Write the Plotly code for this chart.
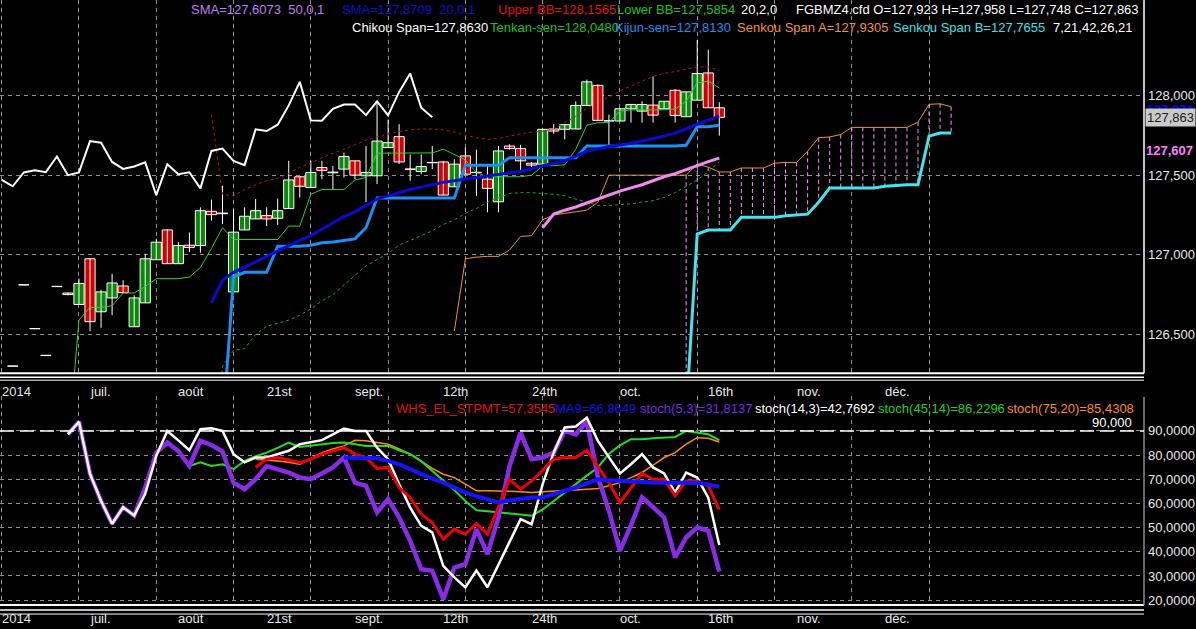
import plotly.graph_objects as go

# ---------------- price pane : FGBMZ4.cfd, one candle per bar index ----------------
first_bar = 1
bar_open = [126.300, 126.810, 126.535, 126.367, 126.800, 126.760, 126.688, 126.975, 126.642, 126.729,
            126.804, 126.548, 126.698, 126.969, 127.156, 126.944, 127.060, 127.058, 127.273, 127.262,
            126.767, 127.156, 127.225, 127.246, 127.229, 127.290, 127.490, 127.423, 127.548, 127.515,
            127.538, 127.590, 127.496, 127.496, 127.673, 127.742, 127.536, 127.523, 127.578, 127.583,
            127.427, 127.621, 127.516, 127.475, 127.333, 127.683, 127.667, 127.575, 127.569, 127.790,
            127.788, 127.790, 127.938, 128.064, 127.840, 127.840, 127.917, 127.902, 127.940, 127.917,
            128.033, 127.867, 127.971, 128.142, 127.923]
bar_high = [126.300, 126.810, 126.535, 126.367, 126.800, 126.762, 126.850, 126.975, 126.780, 126.880,
            126.840, 126.746, 127.006, 127.100, 127.160, 127.080, 127.140, 127.298, 127.346, 127.433,
            127.288, 127.298, 127.350, 127.298, 127.354, 127.590, 127.490, 127.590, 127.590, 127.558,
            127.642, 127.590, 127.683, 127.964, 127.850, 127.820, 127.630, 127.630, 127.683, 127.590,
            127.600, 127.673, 127.660, 127.558, 127.683, 127.694, 127.690, 127.580, 127.790, 127.820,
            127.820, 127.964, 128.100, 128.070, 127.880, 127.920, 127.944, 127.964, 128.120, 127.964,
            128.040, 128.023, 128.350, 128.288, 127.958]
bar_low = [126.300, 126.810, 126.535, 126.367, 126.800, 126.745, 126.688, 126.520, 126.542, 126.620,
           126.762, 126.548, 126.698, 126.969, 126.944, 126.944, 127.017, 127.013, 127.214, 127.194,
           126.767, 127.156, 127.225, 127.180, 127.188, 127.290, 127.360, 127.423, 127.475, 127.413,
           127.485, 127.475, 127.330, 127.444, 127.673, 127.570, 127.465, 127.506, 127.538, 127.375,
           127.427, 127.506, 127.370, 127.267, 127.267, 127.660, 127.517, 127.550, 127.569, 127.760,
           127.725, 127.790, 127.938, 127.844, 127.683, 127.840, 127.830, 127.830, 127.830, 127.917,
           127.830, 127.867, 127.971, 127.923, 127.748]
bar_close = [126.300, 126.810, 126.535, 126.367, 126.800, 126.750, 126.820, 126.580, 126.767, 126.823,
             126.762, 126.729, 126.975, 127.079, 126.944, 127.058, 127.046, 127.277, 127.252, 127.258,
             127.142, 127.242, 127.277, 127.225, 127.277, 127.470, 127.430, 127.517, 127.530, 127.519,
             127.617, 127.500, 127.517, 127.714, 127.704, 127.583, 127.539, 127.554, 127.580, 127.375,
             127.569, 127.506, 127.518, 127.417, 127.652, 127.667, 127.590, 127.563, 127.788, 127.777,
             127.817, 127.938, 128.086, 127.844, 127.842, 127.917, 127.944, 127.944, 127.877, 127.964,
             127.875, 128.023, 128.138, 127.923, 127.863]

# Ichimoku 7,21,42,26,21
chikou_start = 0
chikou = [127.470, 127.430, 127.517, 127.530, 127.519, 127.617, 127.500, 127.517, 127.714, 127.704,
          127.583, 127.539, 127.554, 127.580, 127.375, 127.569, 127.506, 127.518, 127.417, 127.652,
          127.667, 127.590, 127.563, 127.788, 127.777, 127.817, 127.938, 128.086, 127.844, 127.842,
          127.917, 127.944, 127.944, 127.877, 127.964, 127.875, 128.023, 128.138, 127.923, 127.863]
tenkan_start = 6
tenkan = [125.780, 126.590, 126.670, 126.670, 126.680, 126.760, 126.760, 126.800, 126.850, 126.850,
          126.850, 126.860, 126.920, 127.040, 127.170, 127.096, 127.096, 127.096, 127.096, 127.096,
          127.180, 127.180, 127.380, 127.410, 127.410, 127.410, 127.470, 127.485, 127.638, 127.638,
          127.638, 127.638, 127.638, 127.640, 127.663, 127.630, 127.596, 127.517, 127.490, 127.490,
          127.490, 127.490, 127.500, 127.558, 127.560, 127.565, 127.663, 127.813, 127.830, 127.830,
          127.902, 127.910, 127.910, 127.910, 127.910, 127.915, 127.964, 128.080, 128.090, 128.048]
kijun_start = 20
kijun = [125.890, 126.860, 126.890, 126.890, 126.890, 127.054, 127.054, 127.054, 127.060, 127.075,
         127.080, 127.090, 127.100, 127.170, 127.356, 127.356, 127.356, 127.356, 127.356, 127.356,
         127.356, 127.356, 127.563, 127.563, 127.563, 127.563, 127.610, 127.610, 127.610, 127.610,
         127.610, 127.610, 127.610, 127.683, 127.683, 127.683, 127.683, 127.683, 127.683, 127.683,
         127.683, 127.683, 127.688, 127.804, 127.804, 127.813]
senkou_a_start = 41
senkou_a = [126.520, 126.975, 126.985, 126.990, 126.990, 127.030, 127.115, 127.120, 127.220, 127.250,
            127.260, 127.270, 127.280, 127.330, 127.500, 127.500, 127.500, 127.500, 127.500, 127.500,
            127.500, 127.500, 127.570, 127.550, 127.520, 127.520, 127.545, 127.545, 127.545, 127.575,
            127.580, 127.580, 127.650, 127.735, 127.740, 127.755, 127.800, 127.800, 127.800, 127.800,
            127.800, 127.800, 127.833, 127.945, 127.948, 127.930]
senkou_b_start = 62
senkou_b = [126.000, 127.130, 127.155, 127.155, 127.155, 127.235, 127.235, 127.235, 127.235, 127.245,
            127.250, 127.255, 127.330, 127.420, 127.420, 127.420, 127.420, 127.420, 127.430, 127.435,
            127.440, 127.440, 127.745, 127.765, 127.765]

# moving averages and Bollinger bands (20,2,0)
sma20_start = 19
sma20 = [126.700, 126.840, 126.890, 126.920, 126.955, 126.990, 127.025, 127.060, 127.090, 127.120,
         127.160, 127.200, 127.240, 127.270, 127.310, 127.350, 127.370, 127.390, 127.410, 127.425,
         127.440, 127.455, 127.465, 127.475, 127.485, 127.495, 127.505, 127.515, 127.525, 127.540,
         127.560, 127.575, 127.590, 127.620, 127.650, 127.665, 127.680, 127.690, 127.700, 127.715,
         127.730, 127.745, 127.765, 127.790, 127.820, 127.845, 127.871]
upper_bb = [127.880, 127.380, 127.370, 127.410, 127.440, 127.465, 127.480, 127.510, 127.550, 127.575,
            127.610, 127.635, 127.660, 127.690, 127.720, 127.740, 127.760, 127.775, 127.785, 127.790,
            127.790, 127.785, 127.770, 127.750, 127.735, 127.725, 127.730, 127.745, 127.760, 127.770,
            127.775, 127.790, 127.830, 127.870, 127.920, 127.960, 127.990, 128.030, 128.060, 128.090,
            128.120, 128.140, 128.150, 128.165, 128.180, 128.180, 128.157]
lower_bb = [125.540, 126.300, 126.400, 126.410, 126.500, 126.550, 126.570, 126.590, 126.620, 126.660,
            126.710, 126.750, 126.810, 126.870, 126.930, 126.970, 127.010, 127.060, 127.090, 127.120,
            127.150, 127.190, 127.220, 127.260, 127.290, 127.330, 127.360, 127.385, 127.390, 127.390,
            127.385, 127.380, 127.370, 127.350, 127.330, 127.310, 127.310, 127.315, 127.320, 127.330,
            127.340, 127.360, 127.390, 127.430, 127.470, 127.520, 127.585]
sma50_start = 49
sma50 = [127.170, 127.256, 127.280, 127.300, 127.325, 127.350, 127.375, 127.400, 127.420, 127.440,
         127.465, 127.490, 127.510, 127.535, 127.563, 127.585, 127.607]

# ---------------- oscillator pane ----------------
stoch5_start = 6
stoch5 = [88.6, 93.8, 72.2, 61.0, 51.6, 58.4, 55.0, 66.6, 81.0, 85.2,
          81.7, 75.5, 85.9, 84.2, 81.5, 68.6, 65.9, 70.0, 75.5, 74.2,
          72.8, 70.7, 70.0, 72.4, 74.9, 79.0, 68.6, 67.3, 56.3, 61.8,
          54.2, 44.5, 32.8, 32.1, 20.4, 33.5, 34.9, 49.4, 39.0, 54.2,
          75.5, 89.3, 78.3, 79.0, 81.0, 90.0, 88.6, 93.9, 71.0, 57.0,
          40.4, 51.0, 62.5, 58.5, 54.2, 37.7, 45.9, 50.1, 48.7, 31.8]
stoch14_start = 6
stoch14 = [88.6, 93.8, 72.2, 61.0, 51.6, 58.4, 55.0, 64.0, 79.7, 90.0,
           86.1, 82.0, 90.7, 91.1, 90.0, 80.4, 77.0, 79.0, 79.0, 80.4,
           81.8, 84.5, 85.5, 86.2, 88.6, 91.0, 90.0, 90.0, 83.1, 78.3,
           68.0, 58.3, 50.7, 48.0, 34.2, 29.4, 25.3, 32.2, 25.3, 34.9,
           44.5, 53.5, 51.4, 68.0, 81.0, 91.4, 91.8, 95.5, 85.9, 79.0,
           72.4, 76.2, 80.4, 74.9, 72.4, 64.5, 72.8, 70.7, 62.4, 42.8]
whs_start = 23
whs_stpmt = [74.9, 78.3, 79.0, 78.0, 76.9, 78.3, 80.4, 81.7, 83.1, 80.4,
             79.0, 74.4, 75.1, 66.6, 62.5, 55.6, 52.1, 45.2, 49.4, 47.3,
             51.7, 47.3, 58.3, 70.0, 65.9, 69.3, 73.7, 78.3, 79.0, 79.0,
             82.0, 75.5, 68.6, 60.4, 66.6, 72.4, 70.0, 70.0, 63.1, 69.3,
             69.3, 67.3, 57.4]
ma9_start = 31
ma9 = [79.0, 79.0, 78.9, 78.7, 77.6, 76.2, 74.2, 72.1, 70.3, 68.6,
       66.5, 64.5, 63.0, 61.8, 60.4, 61.3, 62.0, 62.5, 62.5, 63.8,
       65.2, 66.6, 68.3, 70.0, 69.6, 69.3, 69.0, 68.8, 68.7, 68.6,
       68.6, 68.6, 68.6, 67.8, 66.9]
stoch45_start = 17
stoch45 = [75.5, 77.0, 75.5, 76.2, 74.2, 77.6, 79.5, 81.0, 83.0, 85.2,
           83.4, 84.0, 84.5, 85.0, 85.2, 84.5, 83.8, 83.8, 83.8, 82.0,
           80.4, 77.5, 73.5, 69.3, 65.5, 61.0, 57.2, 56.8, 56.3, 56.0,
           55.6, 54.9, 57.5, 61.1, 64.5, 68.0, 71.5, 74.9, 80.5, 84.0,
           86.6, 86.6, 87.0, 87.2, 87.5, 90.0, 89.3, 88.6, 86.2]
stoch75_start = 23
stoch75 = [78.3, 78.0, 77.6, 77.0, 76.2, 78.5, 81.0, 82.5, 83.8, 86.1,
           85.9, 85.2, 84.5, 82.5, 80.4, 77.5, 74.5, 72.1, 70.7, 68.0,
           65.2, 65.2, 65.2, 65.0, 64.8, 64.5, 64.8, 65.2, 65.4, 65.6,
           65.8, 66.2, 67.3, 68.6, 70.7, 72.8, 75.8, 79.0, 81.0, 84.5,
           87.2, 87.0, 85.4]
stoch_level = 90

# axis labels
date_labels = ["2014", "juil.", "août", "21st", "sept.", "12th", "24th", "oct.", "16th", "nov.", "déc."]
date_label_bars = [0, 8, 16, 24, 32, 40, 48, 56, 64, 72, 80]
price_ticks = [126.5, 127.0, 127.5, 128.0]
osc_ticks = [20, 30, 40, 50, 60, 70, 80, 90]

# ---------------- geometry (pixels of the 1196x629 page) ----------------
W, H = 1196, 629
PLOT_W = 1144
FONT = "Liberation Sans, Arial, sans-serif"
GRID = "#8e8e8e"


def xs(start, values):
    return list(range(start, start + len(values)))


def px_x(p):
    return p / PLOT_W


def px_y(p):
    return 1 - p / H


def comma(v, nd):
    return f"{v:.{nd}f}".replace(".", ",")


bars = xs(first_bar, bar_open)
fig = go.Figure()

# candle wicks
wx, wy = [], []
for i, lo, hi in zip(bars, bar_low, bar_high):
    wx += [i, i, None]
    wy += [lo, hi, None]
fig.add_trace(go.Scatter(x=wx, y=wy, mode="lines", line=dict(color="white", width=1),
                         xaxis="x", yaxis="y"))

# candle bodies
body_base = [min(o, c) for o, c in zip(bar_open, bar_close)]
body_size = [max(abs(c - o), 0.002) for o, c in zip(bar_open, bar_close)]
body_col = ["#0b870b" if c >= o else "#d20000" for o, c in zip(bar_open, bar_close)]
fig.add_trace(go.Bar(x=bars, y=body_size, base=body_base, width=0.92,
                     marker=dict(color=body_col, line=dict(color="white", width=1)),
                     xaxis="x", yaxis="y"))

# kumo cloud: dashed verticals between the two spans
cx, cy = [], []
for i in xs(senkou_b_start, senkou_b):
    cx += [i, i, None]
    cy += [senkou_a[i - senkou_a_start], senkou_b[i - senkou_b_start], None]
fig.add_trace(go.Scatter(x=cx, y=cy, mode="lines", line=dict(color="#f29af2", width=1, dash="4px,3px"),
                         xaxis="x", yaxis="y"))

price_lines = [
    (upper_bb, sma20_start, "#b81818", 1, "3px,3px"),
    (lower_bb, sma20_start, "#22aa22", 1, "3px,3px"),
    (tenkan, tenkan_start, "#33d033", 1, "solid"),
    (senkou_a, senkou_a_start, "#f0923c", 1, "solid"),
    (senkou_b, senkou_b_start, "#44e4ee", 3, "solid"),
    (sma50, sma50_start, "#f08cf0", 3, "solid"),
    (kijun, kijun_start, "#1e8ff5", 3, "solid"),
    (sma20, sma20_start, "#0a0ad2", 3, "solid"),
    (chikou, chikou_start, "#ffffff", 2, "solid"),
]
for vals, start, col, lw, dash in price_lines:
    fig.add_trace(go.Scatter(x=xs(start, vals), y=vals, mode="lines",
                             line=dict(color=col, width=lw, dash=dash),
                             xaxis="x", yaxis="y"))

osc_lines = [
    (stoch75, stoch75_start, "#ff8c1a", 1.5),
    (stoch45, stoch45_start, "#22dd22", 2),
    (stoch5, stoch5_start, "#8a2be8", 4.5),
    (stoch14, stoch14_start, "#ffffff", 2.5),
    (whs_stpmt, whs_start, "#f00000", 3),
    (ma9, ma9_start, "#1414ff", 4),
]
for vals, start, col, lw in osc_lines:
    fig.add_trace(go.Scatter(x=xs(start, vals), y=vals, mode="lines",
                             line=dict(color=col, width=lw),
                             xaxis="x2", yaxis="y2"))

# ---------------- annotations ----------------
ann = []


def text(s, x, y, color, size=13, anchor="left", bold=False):
    ann.append(dict(text=f"<b>{s}</b>" if bold else s, x=px_x(x), y=px_y(y), xref="paper", yref="paper",
                    xanchor=anchor, yanchor="middle", showarrow=False,
                    font=dict(family=FONT, size=size, color=color)))


nb = "\u00a0"
top1 = [(f"SMA=127,6073{nb}{nb}50,0,1", 189, "#c07ef0"),
        (f"SMA=127,8709{nb}{nb}20,0,1", 340, "#1010c8"),
        ("Upper BB=128,1565", 496, "#e01010"),
        ("Lower BB=127,5854", 615, "#22c022"),
        ("20,2,0", 739, "#ffffff"),
        ("FGBMZ4.cfd O=127,923 H=127,958 L=127,748 C=127,863", 794, "#ffffff")]
top2 = [("Chikou Span=127,8630", 350, "#ffffff"),
        ("Tenkan-sen=128,0480", 488, "#22c022"),
        ("Kijun-sen=127,8130", 613, "#2090f0"),
        ("Senkou Span A=127,9305", 735, "#f0923c"),
        ("Senkou Span B=127,7655", 891, "#40e0e8"),
        ("7,21,42,26,21", 1051, "#ffffff")]
low1 = [("WHS_EL_STPMT=57,3545", 394, "#e01010"),
        ("MA9=66,8649", 553, "#1414e0"),
        ("stoch(5,3)=31,8137", 638, "#7a2be0"),
        ("stoch(14,3)=42,7692", 753, "#ffffff"),
        ("stoch(45,14)=86,2296", 876, "#22d022"),
        ("stoch(75,20)=85,4308", 1005, "#ff8c1a")]
for s, x, c in top1:
    text(s, x, 9.5, c)
for s, x, c in top2:
    text(s, x, 28, c)
for s, x, c in low1:
    text(s, x, 410, c)
text(comma(stoch_level, 3), 1134, 425, "#ffffff", anchor="right")

# date labels between the panes and at the bottom
for lab, b in zip(date_labels, date_label_bars):
    for yy in (393, 621):
        ann.append(dict(text=lab, x=b, y=px_y(yy), xref="x", yref="paper", xanchor="left",
                        yanchor="middle", showarrow=False, xshift=-2,
                        font=dict(family=FONT, size=13, color="#e8e8e8")))

# right-scale value markers
ann.append(dict(text=f"<b>{comma(sma20[-1], 3)}</b>", x=1, y=sma20[-1], xref="paper", yref="y",
                xanchor="left", yanchor="middle", yshift=7, xshift=1, showarrow=False,
                font=dict(family=FONT, size=13, color="#0000ff")))
ann.append(dict(text=comma(bar_close[-1], 3), x=1, y=bar_close[-1], xref="paper", yref="y",
                xanchor="left", yanchor="middle", xshift=1, showarrow=False, bgcolor="#cacaca",
                borderpad=1, font=dict(family=FONT, size=13, color="#202020")))
ann.append(dict(text=f"<b>{comma(sma50[-1], 3)}</b>", x=1, y=sma50[-1], xref="paper", yref="y",
                xanchor="left", yanchor="middle", yshift=8, xshift=0, showarrow=False,
                font=dict(family=FONT, size=13, color="#ff80ff")))

# ---------------- frame lines ----------------
shapes = []
for yy, lw in ((375, 2), (379, 1.5), (382, 1), (608, 2), (613, 1.5), (617, 1)):
    shapes.append(dict(type="line", xref="paper", yref="paper", x0=0, x1=1, y0=px_y(yy), y1=px_y(yy),
                       line=dict(color="white", width=lw)))
shapes.append(dict(type="line", xref="paper", yref="paper", x0=1, x1=1, y0=px_y(375), y1=1,
                   line=dict(color="white", width=1.5)))
shapes.append(dict(type="line", xref="paper", yref="paper", x0=1, x1=1, y0=px_y(608), y1=px_y(399),
                   line=dict(color="#8a8a8a", width=1.5)))
shapes.append(dict(type="line", xref="paper", yref="y2", x0=0, x1=1, y0=stoch_level, y1=stoch_level,
                   line=dict(color="white", width=1.5, dash="14px,6px")))

xgrid = list(range(0, 85, 7))
xcommon = dict(range=[-0.154, 103.47], tickmode="array", tickvals=xgrid, showticklabels=False,
               showgrid=True, gridcolor=GRID, griddash="4px,4px", gridwidth=1,
               zeroline=False, showline=False, ticks="", fixedrange=True)
ycommon = dict(side="right", showgrid=True, gridcolor=GRID, griddash="4px,4px", gridwidth=1,
               zeroline=False, showline=False, ticks="", ticklabelstandoff=3,
               tickfont=dict(family=FONT, size=13, color="#e8e8e8"), fixedrange=True)

fig.update_layout(
    width=W, height=H,
    margin=dict(l=0, r=W - PLOT_W, t=0, b=0),
    paper_bgcolor="black", plot_bgcolor="black",
    showlegend=False, hovermode=False,
    separators=", ",
    xaxis=dict(domain=[0, 1], anchor="y", **xcommon),
    xaxis2=dict(domain=[0, 1], anchor="y2", **xcommon),
    yaxis=dict(domain=[px_y(375), 1], range=[126.25625, 128.6], tickvals=price_ticks,
               tickformat=".3f", anchor="x", **ycommon),
    yaxis2=dict(domain=[px_y(608), px_y(398)], range=[17.94, 104.41], tickvals=osc_ticks,
                tickformat=".4f", anchor="x2", **ycommon),
    annotations=ann,
    shapes=shapes,
)

# the page's default body margin would push the chart 8px off; remove it
fig.write_html("out.html", config={"displayModeBar": False},
               post_script="document.body.style.margin='0';document.body.style.overflow='hidden';")
